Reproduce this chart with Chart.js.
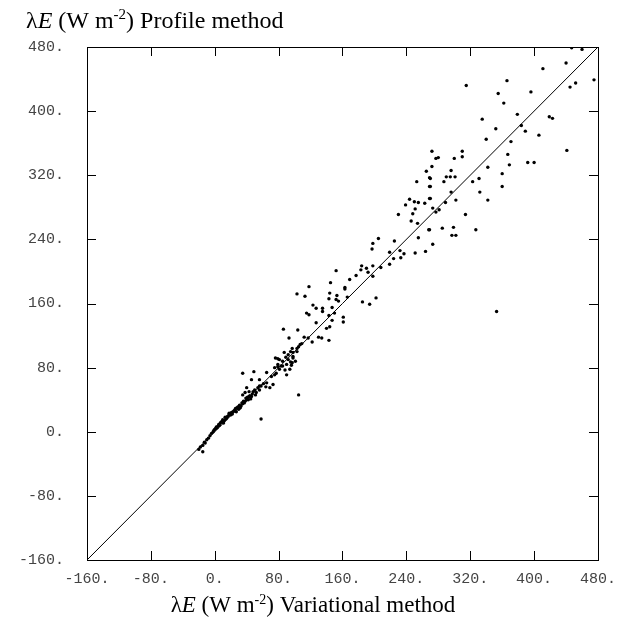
<!DOCTYPE html>
<html>
<head>
<meta charset="utf-8">
<script src="https://cdn.jsdelivr.net/npm/chart.js@4.4.1/dist/chart.umd.min.js"></script>
<style>
  html, body { margin: 0; padding: 0; background: #fff; }
  #wrap { width: 626px; height: 623px; position: relative; }
</style>
</head>
<body>
<div id="wrap"><canvas id="c" width="626" height="623"></canvas></div>
<script>
// ---- Data ----
const tickValues = [-160, -80, 0, 80, 160, 240, 320, 400, 480];
const tickLabels = ["-160.", "-80.", "0.", "80.", "160.", "240.", "320.", "400.", "480."];
const lineX = [-160, 480];
const lineY = [-160, 480];

// Variational method (x) and Profile method (y), W m-2
const variationalX = [
  -20,-18,-15,-15,-13,-12,-10,-8,-6,-4,-2,-1,0,1,2,3,4,5,6,7,8,9,10,11,12,13,14,15,16,17,18,19,20,21,22,23,24,25,26,27,28,29,30,31,32,33,34,35,36,37,38,39,40,41,42,43,44,45,46,47,48,50,51,52,54,56,56,58,61,64,65,69,73,
  40,38,35,43,46,56,35,49,65,71,75,77,79,83,90,96,94,88,81,90,76,81,85,92,98,101,87,92,98,103,58,105,75,79,97,95,85,79,98,89,
  86,104,140,144,93,112,117,130,134,143,109,107,122,105,103,97,95,
  152,145,163,163,118,103,113,144,143,153,152,155,166,185,194,202,123,127,135,135,147,150,115,118,143,147,161,161,127,
  177,169,198,184,183,190,192,198,208,219,224,233,219,232,237,251,264,197,198,205,225,255,246,254,230,248,251,239,244,250,255,263,270,268,265,270,253,270,
  269,269,296,332,302,342,269,289,273,277,281,314,269,285,299,297,302,327,273,353,
  447,460,440,411,475,452,445,315,366,355,396,362,379,335,419,423,384,352,389,406,340,371,441,310,300,310,367,342,369,392,400,296,290,295,301,287,360,323,331,360,272,277,280,272
];
const profileY = [
  -22,-19,-17,-25,-13,-14,-10,-8,-5,-2,0,2,3,4,6,5,7,9,8,11,12,13,15,11,14,18,16,17,19,20,23,22,21,24,22,25,26,27,29,25,30,31,28,33,30,32,36,35,38,36,38,42,40,43,40,44,45,41,44,47,50,52,46,49,55,52,57,57,60,56,61,55,59,
  55,49,46,50,65,65,73,75,74,69,71,73,84,82,84,83,78,77,78,71,92,90,88,90,92,88,99,96,99,100,16,46,80,91,86,87,82,81,94,93,
  128,127,129,131,117,118,117,118,117,114,110,109,112,106,104,104,100,
  201,186,180,178,181,172,169,173,166,170,165,163,168,162,159,167,158,154,154,150,155,148,148,146,145,139,143,137,136,
  195,190,194,207,202,204,199,207,205,209,216,217,224,226,222,223,225,228,235,241,238,242,263,260,271,272,278,283,290,287,286,285,291,252,325,316,312,306,
  317,306,299,299,289,289,291,286,279,274,277,271,252,254,255,245,245,252,234,150,
  479,477,460,453,439,435,430,432,438,422,424,410,396,390,393,391,382,378,375,370,365,362,351,350,341,343,346,330,333,336,336,326,318,318,318,312,322,312,316,306,350,341,342,331
];

const points = variationalX.map((x, i) => ({ x: x, y: profileY[i] }));
const diagonal = lineX.map((x, i) => ({ x: x, y: lineY[i] }));

const TICK_LEN = 9;

const framePlugin = {
  id: 'frame',
  afterDraw(chart) {
    const ctx = chart.ctx;
    const a = chart.chartArea;
    const xs = chart.scales.x, ys = chart.scales.y;
    ctx.save();
    ctx.strokeStyle = '#000';
    ctx.lineWidth = 1;
    ctx.strokeRect(Math.round(a.left) + 0.5, Math.round(a.top) + 0.5,
                   Math.round(a.right - a.left), Math.round(a.bottom - a.top));
    ctx.beginPath();
    tickValues.forEach(v => {
      const px = Math.round(xs.getPixelForValue(v)) + 0.5;
      ctx.moveTo(px, a.bottom); ctx.lineTo(px, a.bottom - TICK_LEN);
      ctx.moveTo(px, a.top); ctx.lineTo(px, a.top + TICK_LEN);
      const py = Math.round(ys.getPixelForValue(v)) + 0.5;
      ctx.moveTo(a.left, py); ctx.lineTo(a.left + TICK_LEN, py);
      ctx.moveTo(a.right, py); ctx.lineTo(a.right - TICK_LEN, py);
    });
    ctx.stroke();

    // Axis titles with italic E and superscript -2
    function rich(parts, x, y, align, size) {
      const fontFor = p => (p.i ? 'italic ' : '') + (p.sup ? Math.round(size * 0.62) : size) + 'px "Liberation Serif", "Times New Roman", serif';
      const widths = parts.map(p => { ctx.font = fontFor(p); return ctx.measureText(p.t).width; });
      const total = widths.reduce((s, w) => s + w, 0);
      let cx = align === 'center' ? x - total / 2 : x;
      ctx.fillStyle = '#000';
      ctx.textBaseline = 'alphabetic';
      ctx.textAlign = 'left';
      parts.forEach((p, k) => {
        ctx.font = fontFor(p);
        ctx.fillText(p.t, cx, p.sup ? y - size * 0.36 : y);
        cx += widths[k];
      });
    }
    rich([{t:'λ'},{t:'E',i:true},{t:' (W m'},{t:'-2',sup:true},{t:') Profile method'}], 26, 28, 'left', 24);
    rich([{t:'λ'},{t:'E',i:true},{t:' (W m'},{t:'-2',sup:true},{t:') Variational method'}], 313, 612, 'center', 23);
    ctx.restore();
  }
};

const tickFont = { family: '"Liberation Mono", "DejaVu Sans Mono", monospace', size: 15 };

new Chart(document.getElementById('c'), {
  type: 'scatter',
  data: {
    datasets: [
      {
        type: 'line',
        data: diagonal,
        borderColor: '#000',
        borderWidth: 1,
        pointRadius: 0,
        fill: false,
        order: 2
      },
      {
        data: points,
        backgroundColor: '#000',
        borderColor: '#000',
        borderWidth: 0,
        pointRadius: 1.7,
        pointHoverRadius: 1.7,
        order: 1
      }
    ]
  },
  options: {
    responsive: false,
    animation: false,
    devicePixelRatio: 1,
    layout: { padding: { left: 0, top: 47, right: 27, bottom: 0 } },
    plugins: { legend: { display: false }, tooltip: { enabled: false }, title: { display: false } },
    scales: {
      x: {
        type: 'linear',
        min: -160, max: 480,
        afterBuildTicks(scale) { scale.ticks = tickValues.map(v => ({ value: v })); },
        afterFit(scale) { scale.height = 63; },
        grid: { display: false, drawTicks: false },
        border: { display: false },
        ticks: {
          padding: 10,
          color: '#444',
          font: tickFont,
          maxRotation: 0,
          autoSkip: false,
          callback: (v) => tickLabels[tickValues.indexOf(v)]
        }
      },
      y: {
        type: 'linear',
        min: -160, max: 480,
        afterBuildTicks(scale) { scale.ticks = tickValues.map(v => ({ value: v })); },
        afterFit(scale) { scale.width = 87; },
        grid: { display: false, drawTicks: false },
        border: { display: false },
        ticks: {
          padding: 23,
          color: '#444',
          font: tickFont,
          autoSkip: false,
          callback: (v) => tickLabels[tickValues.indexOf(v)]
        }
      }
    }
  },
  plugins: [framePlugin]
});
</script>
</body>
</html>
